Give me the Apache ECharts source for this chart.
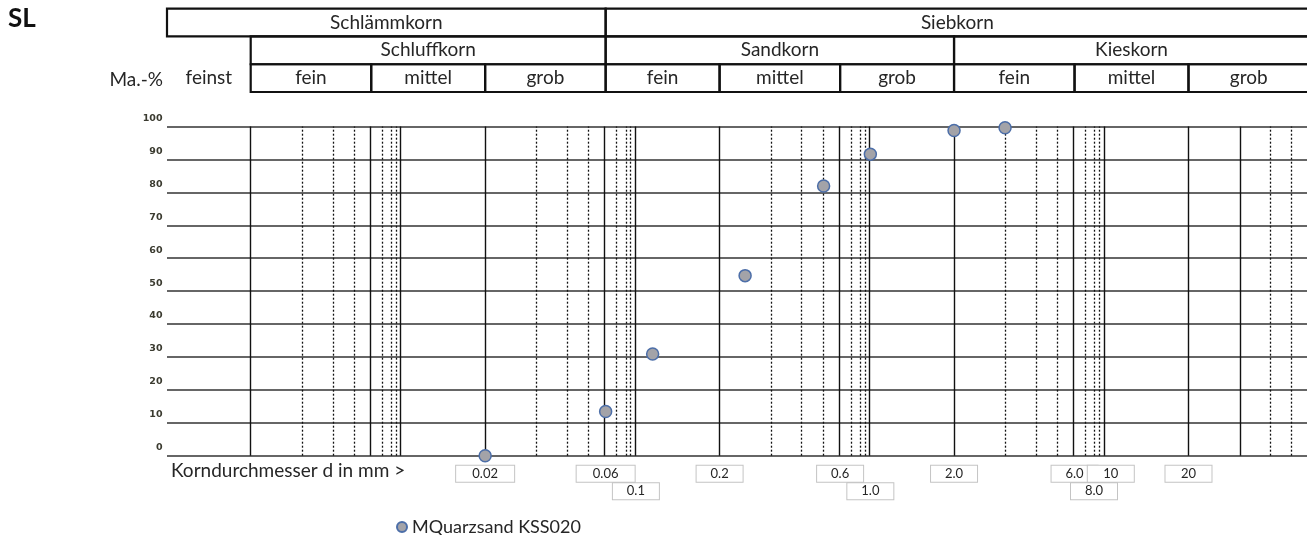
<!DOCTYPE html>
<html>
<head>
<meta charset="utf-8">
<script src="https://cdn.jsdelivr.net/npm/echarts@6/dist/echarts.min.js"></script>
<style>
  html, body { margin: 0; padding: 0; background: #fff; }
  #chart { width: 1307px; height: 535px; }
</style>
</head>
<body>
<div id="chart"></div>
<script>
// Körnungslinie MQuarzsand KSS020 – Siebdurchgang über Korndurchmesser

const seriesName = 'MQuarzsand KSS020';
const diameters = [0.02, 0.06, 0.12, 0.25, 0.5, 1.0, 2.0, 3.0];      // mm
const passing   = [0, 13.4, 30.9, 54.7, 81.9, 91.6, 98.8, 99.6];     // Ma.-%

// beschriftete Korngrößen unter dem Diagramm (zwei versetzte Reihen)
const xLabelsUpper = ['0.02', '0.06', '0.2', '0.6', '2.0', '6.0', '10', '20'];
const xLabelsLower = ['0.1', '1.0', '8.0'];

// senkrechte Rasterlinien in mm
const solidLines  = [0.002, 0.006, 0.01, 0.02, 0.06, 0.1, 0.2, 0.6, 1, 2, 6, 10, 20, 30];
const dottedLines = [0.003, 0.004, 0.005, 0.007, 0.008, 0.009,
                     0.03, 0.04, 0.05, 0.07, 0.08, 0.09,
                     0.3, 0.4, 0.5, 0.7, 0.8, 0.9,
                     3, 4, 5, 7, 8, 9,
                     40, 50];

// Kopfzeilen: Bezeichnung, von mm, bis mm
const headerRow1 = [['Schlämmkorn', 0.001, 0.06], ['Siebkorn', 0.06, 60]];
const headerRow2 = [['Schluffkorn', 0.002, 0.06], ['Sandkorn', 0.06, 2], ['Kieskorn', 2, 60]];
const headerRow3 = [['fein', 0.002, 0.006], ['mittel', 0.006, 0.02], ['grob', 0.02, 0.06],
                    ['fein', 0.06, 0.2], ['mittel', 0.2, 0.6], ['grob', 0.6, 2],
                    ['fein', 2, 6], ['mittel', 6, 20], ['grob', 20, 60]];
const feinstCell = ['feinst', 0.001, 0.002];

const xMinMm = 0.001;
const xMaxMm = 60;

// Teilung einer Dekade des Körnungsrasters: Faktor zum Dekadenanfang (2·10^k mm) -> Anteil der Dekade
const DECADE_STEPS = [[1, 0], [1.5, 0.2176], [2, 0.352], [2.5, 0.4437], [3, 0.514],
                      [3.5, 0.562], [4, 0.597], [4.5, 0.621], [5, 0.643], [10, 1]];

function gradePos(d) {
  const k = Math.floor(Math.log10(d / 2) + 1e-9);
  const r = d / (2 * Math.pow(10, k));
  for (let i = 1; i < DECADE_STEPS.length; i++) {
    const [r0, f0] = DECADE_STEPS[i - 1];
    const [r1, f1] = DECADE_STEPS[i];
    if (r <= r1 + 1e-9) return k + f0 + (f1 - f0) * (r - r0) / (r1 - r0);
  }
  return k + 1;
}

const xMin = gradePos(xMinMm);
const xMax = gradePos(xMaxMm);

const FONT = 'Lato';
const TEXT = '#262626';

function labelAxis(labels, margin) {
  const lookup = labels.map(s => [gradePos(parseFloat(s)), s]);
  const box = { height: 16, align: 'center', verticalAlign: 'middle', fontFamily: FONT, fontSize: 13, color: TEXT,
                borderColor: '#c4c4c4', borderWidth: 1, backgroundColor: '#fff' };
  return {
    type: 'value', gridIndex: 0, position: 'bottom',
    min: xMin, max: xMax,
    axisLine: { show: false }, axisTick: { show: false }, splitLine: { show: false },
    axisLabel: {
      customValues: lookup.map(p => p[0]),
      margin: margin,
      formatter: function (v) {
        let best = lookup[0];
        lookup.forEach(p => { if (Math.abs(p[0] - v) < Math.abs(best[0] - v)) best = p; });
        const t = best[1];
        if (t === '10') return '{g|}{b|' + t + '}';
        if (t === '0.02' || t === '0.06') return '{w|' + t + '}';
        return '{b|' + t + '}';
      },
      rich: {
        b: Object.assign({ width: 46 }, box),
        w: Object.assign({ width: 58 }, box),
        g: { width: 12, height: 16 }
      }
    }
  };
}

// Zellen der Kopfzeile: [von, bis, Zeile, Rahmen]
const headerCells = [];
const headerTexts = [];
[headerRow1, headerRow2, headerRow3].forEach((row, r) => {
  row.forEach(c => { headerCells.push([gradePos(c[1]), gradePos(c[2]), r, 1]); headerTexts.push(c[0]); });
});
headerCells.push([gradePos(feinstCell[1]), gradePos(feinstCell[2]), 2, 0]);
headerTexts.push(feinstCell[0]);

const chart = echarts.init(document.getElementById('chart'), null, { renderer: 'canvas' });

chart.setOption({
  animation: false,
  backgroundColor: '#fff',
  grid: [
    { left: 167, right: -2, top: 126.5, bottom: 79.3, outerBoundsMode: 'none', containLabel: false },
    { left: 167, right: -2, top: 8.7, height: 83.3, outerBoundsMode: 'none', containLabel: false }
  ],
  xAxis: [
    labelAxis(xLabelsUpper, 10),
    labelAxis(xLabelsLower, 27.5),
    { type: 'value', gridIndex: 1, min: xMin, max: xMax, show: false }
  ],
  yAxis: [
    {
      type: 'value', gridIndex: 0, min: 0, max: 100, interval: 10,
      axisLine: { show: false }, axisTick: { show: false },
      splitLine: { show: true, lineStyle: { color: '#333', width: 1.6 } },
      axisLabel: {
        margin: 4.5, verticalAlign: 'bottom', padding: [0, 0, 3, 0],
        fontFamily: 'DejaVu Sans', fontSize: 9.5, fontWeight: 'bold', color: '#3b3b30'
      }
    },
    { type: 'value', gridIndex: 1, min: 0, max: 3, inverse: true, show: false }
  ],
  legend: {
    data: [seriesName],
    left: 391, top: 513,
    icon: 'circle', itemWidth: 10, itemHeight: 10, itemGap: 10,
    textStyle: { fontFamily: FONT, fontSize: 18, color: TEXT }
  },
  graphic: [
    { type: 'text', left: 8, top: 6, style: { text: 'SL', fontFamily: FONT, fontWeight: 'bold', fontSize: 26, fill: '#111' } },
    { type: 'text', style: { text: 'Ma.-%', x: 163, y: 80, align: 'right', verticalAlign: 'middle',
                            fontFamily: FONT, fontSize: 19, fill: TEXT } },
    { type: 'text', style: { text: 'Korndurchmesser d in mm >', x: 171, y: 471, align: 'left', verticalAlign: 'middle',
                            fontFamily: FONT, fontSize: 19, fill: TEXT } }
  ],
  series: [
    {
      name: 'Raster', type: 'line', xAxisIndex: 0, yAxisIndex: 0, data: [], silent: true,
      markLine: {
        silent: true, symbol: ['none', 'none'], label: { show: false },
        lineStyle: { color: '#111', width: 1.4, type: 'solid' },
        data: solidLines.map(d => ({ xAxis: gradePos(d) }))
      }
    },
    {
      name: 'Raster fein', type: 'line', xAxisIndex: 0, yAxisIndex: 0, data: [], silent: true,
      markLine: {
        silent: true, symbol: ['none', 'none'], label: { show: false },
        lineStyle: { color: '#111', width: 1.3, type: [2, 2] },
        data: dottedLines.map(d => ({ xAxis: gradePos(d) }))
      }
    },
    {
      name: 'Kopf', type: 'custom', xAxisIndex: 2, yAxisIndex: 1, silent: true, clip: false,
      data: headerCells,
      renderItem: function (params, api) {
        const p0 = api.coord([api.value(0), api.value(2)]);
        const p1 = api.coord([api.value(1), api.value(2) + 1]);
        const children = [];
        if (api.value(3)) {
          children.push({
            type: 'rect',
            shape: { x: p0[0], y: p0[1], width: p1[0] - p0[0], height: p1[1] - p0[1] },
            style: { fill: 'none', stroke: '#111', lineWidth: 2.2 }
          });
        }
        children.push({
          type: 'text',
          style: { text: headerTexts[params.dataIndex], x: (p0[0] + p1[0]) / 2, y: (p0[1] + p1[1]) / 2,
                   align: 'center', verticalAlign: 'middle', fontFamily: FONT, fontSize: 19, fill: TEXT }
        });
        return { type: 'group', children: children };
      }
    },
    {
      name: seriesName, type: 'scatter', xAxisIndex: 0, yAxisIndex: 0, z: 10,
      symbol: 'circle', symbolSize: 12,
      itemStyle: { color: '#a3a3a8', borderColor: '#4c6ea8', borderWidth: 1.5, opacity: 1 },
      data: diameters.map((d, i) => [gradePos(d), passing[i]])
    }
  ]
});
</script>
</body>
</html>
